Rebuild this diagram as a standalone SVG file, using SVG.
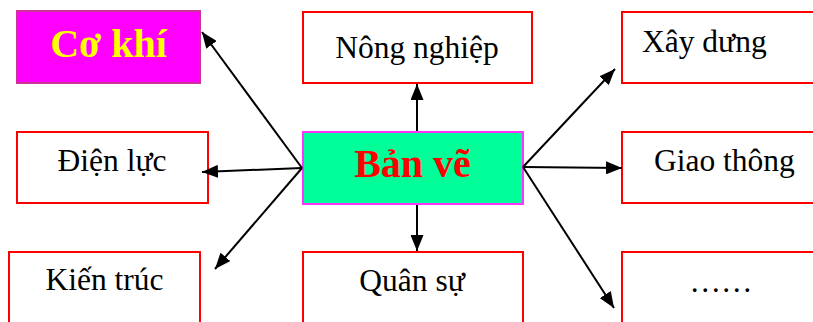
<svg xmlns="http://www.w3.org/2000/svg" width="813" height="322" viewBox="0 0 813 322">
  <style>
    .box { fill: #ffffff; stroke: #ff0000; stroke-width: 2; }
    .lbl { font-family: "Liberation Serif", "Times New Roman", serif; font-size: 31.5px; fill: #000000; }
    .big { font-family: "Liberation Serif", "Times New Roman", serif; font-size: 40px; font-weight: bold; }
    .mid { text-anchor: middle; }
    .conn line { stroke: #000000; stroke-width: 2; marker-end: url(#arrow); }
  </style>
  <defs>
    <marker id="arrow" markerUnits="userSpaceOnUse" viewBox="0 0 16 13" refX="16" refY="6.5" markerWidth="16" markerHeight="13" orient="auto">
      <path d="M0,0 L16,6.5 L0,13 z" fill="#000000"/>
    </marker>
  </defs>
  <rect width="813" height="322" fill="#ffffff"/>

  <g id="co-khi">
    <rect x="17" y="11" width="183" height="72" fill="#ff00ff" stroke="#cc3399" stroke-width="2"/>
    <text class="big mid" x="108.5" y="57" fill="#ffff00">Cơ khí</text>
  </g>
  <g id="nong-nghiep">
    <rect class="box" x="303" y="12" width="229" height="71"/>
    <text class="lbl mid" x="417" y="58">Nông nghiệp</text>
  </g>
  <g id="xay-dung">
    <rect class="box" x="622" y="12" width="210" height="71"/>
    <text class="lbl" x="642" y="52">Xây dưng</text>
  </g>
  <g id="dien-luc">
    <rect class="box" x="17" y="132" width="191" height="71"/>
    <text class="lbl mid" x="112" y="171">Điện lực</text>
  </g>
  <g id="ban-ve">
    <rect x="303" y="132" width="220" height="72" fill="#00ff99" stroke="#ff33ff" stroke-width="2"/>
    <text class="big mid" x="412.5" y="177" fill="#ff0000">Bản vẽ</text>
  </g>
  <g id="giao-thong">
    <rect class="box" x="622" y="132" width="210" height="71"/>
    <text class="lbl" x="654" y="171">Giao thông</text>
  </g>
  <g id="kien-truc">
    <rect class="box" x="9" y="252" width="191" height="90"/>
    <text class="lbl mid" x="104.5" y="290">Kiến trúc</text>
  </g>
  <g id="quan-su">
    <rect class="box" x="303" y="252" width="220" height="90"/>
    <text class="lbl mid" x="412" y="291">Quân sự</text>
  </g>
  <g id="khac">
    <rect class="box" x="622" y="252" width="210" height="90"/>
    <text class="lbl mid" x="721" y="292">……</text>
  </g>

  <g id="connectors" class="conn">
    <line x1="302" y1="168" x2="202" y2="32"/>
    <line x1="302" y1="168" x2="202" y2="172"/>
    <line x1="302" y1="168" x2="215" y2="269"/>
    <line x1="417" y1="131" x2="417" y2="84"/>
    <line x1="417" y1="205" x2="417" y2="251"/>
    <line x1="523" y1="167" x2="615" y2="69"/>
    <line x1="523" y1="167" x2="622" y2="168"/>
    <line x1="523" y1="167" x2="614" y2="308"/>
  </g>
</svg>
